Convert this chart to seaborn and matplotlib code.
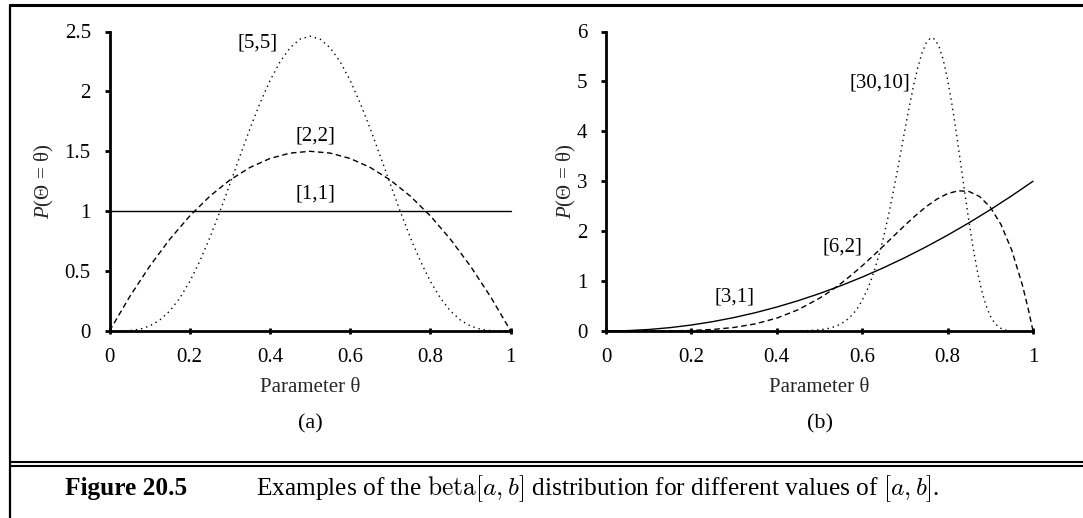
import matplotlib
matplotlib.use("Agg")
import matplotlib.pyplot as plt
from matplotlib.lines import Line2D
from matplotlib.ticker import FuncFormatter
import seaborn as sns

# ---- data read off the figure: beta densities at sampled theta ----
# panel (a)
theta_11 = [0.0, 1.0]
dens_11 = [1.0, 1.0]

theta_22 = [0.0, 0.05, 0.1, 0.15, 0.2, 0.25, 0.3, 0.35, 0.4, 0.45, 0.5,
            0.55, 0.6, 0.65, 0.7, 0.75, 0.8, 0.85, 0.9, 0.95, 1.0]
dens_22 = [0, 0.285, 0.54, 0.765, 0.96, 1.125, 1.26, 1.365, 1.44, 1.485, 1.5,
           1.485, 1.44, 1.365, 1.26, 1.125, 0.96, 0.765, 0.54, 0.285, 0]

theta_55 = [0.0, 0.025, 0.05, 0.075, 0.1, 0.125, 0.15, 0.175, 0.2, 0.225,
            0.25, 0.275, 0.3, 0.325, 0.35, 0.375, 0.4, 0.425, 0.45, 0.475,
            0.5, 0.525, 0.55, 0.575, 0.6, 0.625, 0.65, 0.675, 0.7, 0.725,
            0.75, 0.775, 0.8, 0.825, 0.85, 0.875, 0.9, 0.925, 0.95, 0.975, 1.0]
dens_55 = [0, 0.0002, 0.0032, 0.0146, 0.0413, 0.0902, 0.1665, 0.2737, 0.4129, 0.5825,
           0.7787, 0.9955, 1.2252, 1.4591, 1.6876, 1.9010, 2.0902, 2.2468, 2.3640, 2.4364,
           2.4609, 2.4364, 2.3640, 2.2468, 2.0902, 1.9010, 1.6876, 1.4591, 1.2252, 0.9955,
           0.7787, 0.5825, 0.4129, 0.2737, 0.1665, 0.0902, 0.0413, 0.0146, 0.0032, 0.0002, 0]

# panel (b)
theta_31 = [0.0, 0.05, 0.1, 0.15, 0.2, 0.25, 0.3, 0.35, 0.4, 0.45, 0.5,
            0.55, 0.6, 0.65, 0.7, 0.75, 0.8, 0.85, 0.9, 0.95, 1.0]
dens_31 = [0, 0.0075, 0.03, 0.0675, 0.12, 0.1875, 0.27, 0.3675, 0.48, 0.6075, 0.75,
           0.9075, 1.08, 1.2675, 1.47, 1.6875, 1.92, 2.1675, 2.43, 2.7075, 3.0]

theta_62 = [0.0, 0.05, 0.1, 0.15, 0.2, 0.25, 0.3, 0.35, 0.4, 0.45, 0.5,
            0.525, 0.55, 0.575, 0.6, 0.625, 0.65, 0.675, 0.7, 0.725, 0.75,
            0.775, 0.8, 0.825, 0.85, 0.875, 0.9, 0.925, 0.95, 0.975, 0.99, 1.0]
dens_62 = [0, 0.00001, 0.0004, 0.0027, 0.0108, 0.0308, 0.0714, 0.1434, 0.2580, 0.4263, 0.6563,
           0.7957, 0.9512, 1.1220, 1.3064, 1.5020, 1.7056, 1.9127, 2.1177, 2.3135, 2.4917,
           2.6420, 2.7525, 2.8090, 2.7953, 2.6928, 2.4801, 2.1331, 1.6249, 0.9252, 0.3994, 0]

theta_3010 = [0.0, 0.1, 0.2, 0.3, 0.4, 0.45, 0.47,
              0.50, 0.51, 0.52, 0.53, 0.54, 0.55, 0.56, 0.57, 0.58, 0.59,
              0.60, 0.61, 0.62, 0.63, 0.64, 0.65, 0.66, 0.67, 0.68, 0.69,
              0.70, 0.71, 0.72, 0.73, 0.74, 0.75, 0.76, 0.77, 0.78, 0.79,
              0.80, 0.81, 0.82, 0.83, 0.84, 0.85, 0.86, 0.87, 0.88, 0.89,
              0.90, 0.91, 0.92, 0.93, 0.94, 0.95, 0.96, 0.97, 1.0]
dens_3010 = [0, 0, 0, 0, 0.0002, 0.0026, 0.0065,
             0.0231, 0.0342, 0.0500, 0.0718, 0.1017, 0.1421, 0.1958, 0.2660, 0.3564, 0.4710,
             0.6141, 0.7896, 1.0016, 1.2531, 1.5461, 1.8810, 2.2562, 2.6673, 3.1074, 3.5658,
             4.0292, 4.4809, 4.9017, 5.2713, 5.5688, 5.7746, 5.8719, 5.8487, 5.6995, 5.4256,
             5.0368, 4.5513, 3.9934, 3.3930, 2.7827, 2.1941, 1.6553, 1.1880, 0.8052, 0.5107,
             0.2994, 0.1598, 0.0760, 0.0313, 0.0107, 0.0028, 0.0005, 0.0001, 0]

x_ticks = [0, 0.2, 0.4, 0.6, 0.8, 1]
y_ticks_a = [0, 0.5, 1, 1.5, 2, 2.5]
y_ticks_b = [0, 1, 2, 3, 4, 5, 6]

DASHED = (0, (4, 2.5))
DOTTED = (0, (1, 2.8))

sns.set_style("ticks")
plt.rcParams["font.family"] = ["Liberation Serif", "DejaVu Serif"]
plt.rcParams["mathtext.fontset"] = "custom"
plt.rcParams["mathtext.rm"] = "Liberation Serif"
plt.rcParams["mathtext.it"] = "Liberation Serif:italic"
plt.rcParams["text.color"] = "black"

W, H = 1083, 518
Y0, YTOP = 331, 31.5
fig = plt.figure(figsize=(W / 100, H / 100), dpi=100)
fig.patch.set_facecolor("white")

ax_a = fig.add_axes([109.5 / W, 1 - Y0 / H, 401.2 / W, (Y0 - YTOP) / H])
ax_b = fig.add_axes([606 / W, 1 - Y0 / H, 427 / W, (Y0 - YTOP) / H])


def draw(ax, x, y, ls):
    sns.lineplot(x=x, y=y, ax=ax, color="black", linewidth=1.0,
                 linestyle=ls, clip_on=False, legend=False)


draw(ax_a, theta_11, dens_11, "-")
draw(ax_a, theta_22, dens_22, DASHED)
draw(ax_a, theta_55, dens_55, DOTTED)

draw(ax_b, theta_31, dens_31, "-")
draw(ax_b, theta_62, dens_62, DASHED)
draw(ax_b, theta_3010, dens_3010, DOTTED)

fmt = FuncFormatter(lambda v, p: f"{v:g}")
for ax, yt, ylab_x in ((ax_a, y_ticks_a, -0.161), (ax_b, y_ticks_b, -0.092)):
    ax.set_xlim(0, 1)
    ax.set_ylim(yt[0], yt[-1])
    ax.set_xticks(x_ticks)
    ax.set_yticks(yt)
    ax.xaxis.set_major_formatter(fmt)
    ax.yaxis.set_major_formatter(fmt)
    sns.despine(ax=ax)
    for s in ("left", "bottom"):
        ax.spines[s].set_linewidth(2)
        ax.spines[s].set_color("black")
    ax.tick_params(axis="x", direction="inout", length=5, width=2, pad=10,
                   labelsize=15, colors="black")
    ax.tick_params(axis="y", direction="out", length=3.5, width=2, pad=10,
                   labelsize=15, colors="black")
    ax.set_xlabel("Parameter θ", fontsize=15)
    ax.xaxis.label.set_va("center")
    ax.xaxis.set_label_coords(0.5, (Y0 - 387.5) / (Y0 - YTOP))
    ax.set_ylabel("$P$(Θ = θ)", fontsize=15)
    ax.yaxis.label.set_va("center")
    ax.yaxis.set_label_coords(ylab_x, 0.5)
    ax.set_facecolor("white")

for ax, tag in ((ax_a, "(a)"), (ax_b, "(b)")):
    ax.text(0.5, (Y0 - 424) / (Y0 - YTOP), tag, transform=ax.transAxes,
            ha="center", va="center", fontsize=16)

# curve labels
ax_a.text(0.369, 2.40, "[5,5]", ha="center", va="center", fontsize=15)
ax_a.text(0.513, 1.626, "[2,2]", ha="center", va="center", fontsize=15)
ax_a.text(0.513, 1.14, "[1,1]", ha="center", va="center", fontsize=15)
ax_b.text(0.713, 4.96, "[30,10]", ha="right", va="center", fontsize=15)
ax_b.text(0.553, 1.69, "[6,2]", ha="center", va="center", fontsize=15)
ax_b.text(0.300, 0.69, "[3,1]", ha="center", va="center", fontsize=15)


# page frame and caption rules
def hline(y, lw):
    fig.add_artist(Line2D([9.5 / W, 1.0], [1 - y / H, 1 - y / H], color="black", lw=lw))


hline(5, 2.2)
hline(461.7, 1.5)
hline(466, 1.5)
fig.add_artist(Line2D([9.5 / W, 9.5 / W], [1 - 5 / H, 0], color="black", lw=1.6))

fig.text(65 / W, 1 - 495 / H, "Figure 20.5", fontweight="bold", fontsize=18.3, va="baseline")
fig.text(256.5 / W, 1 - 495 / H,
         r"Examples of the $\mathrm{beta}[a,b]$ distribution for different values of $[a,b]$.",
         fontsize=18.3, va="baseline", math_fontfamily="cm")

fig.savefig("out.png", dpi=100)
